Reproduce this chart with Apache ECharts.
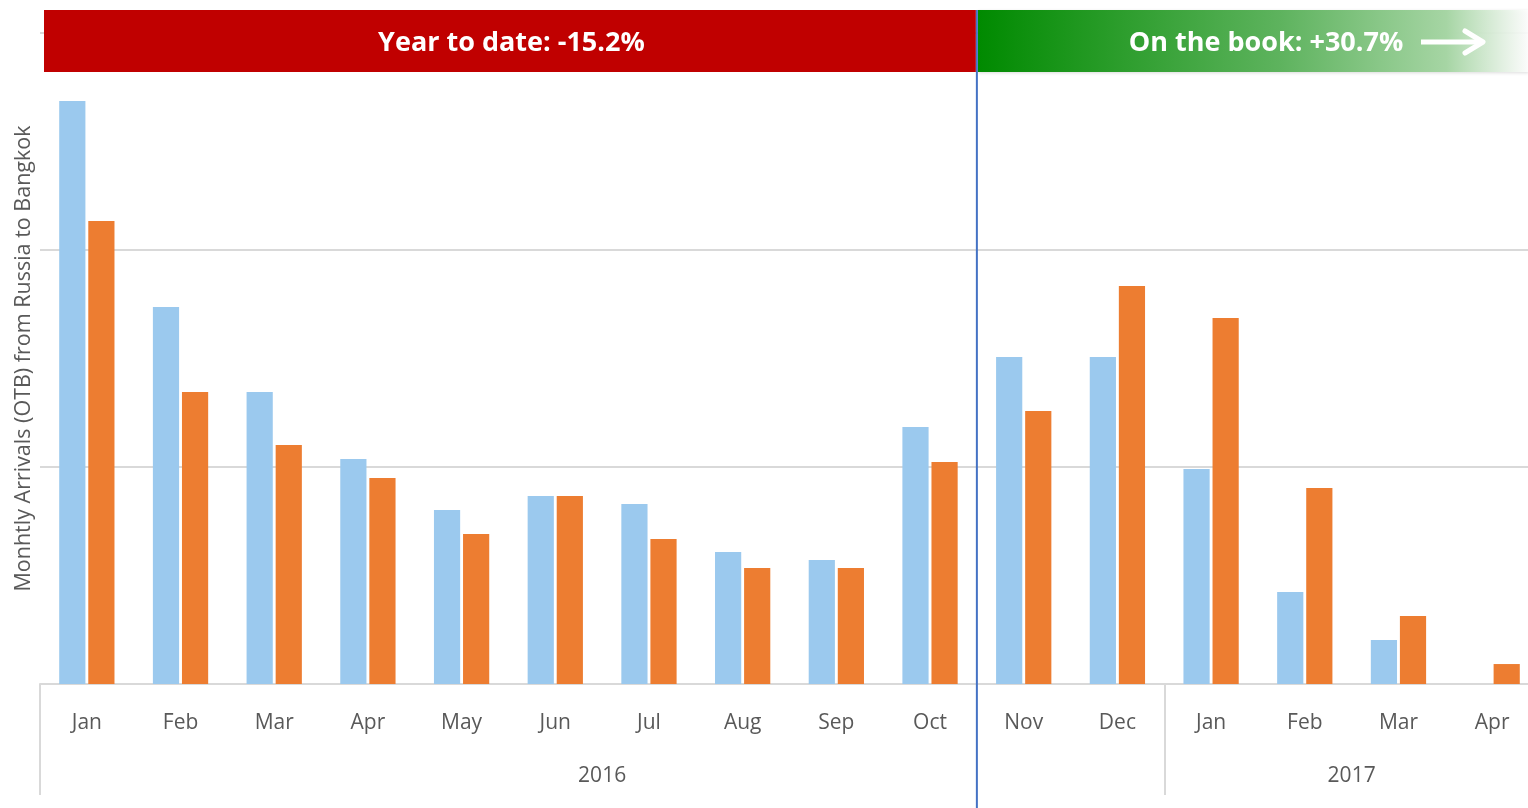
<!DOCTYPE html>
<html>
<head>
<meta charset="utf-8">
<script src="https://cdn.jsdelivr.net/npm/echarts@6/dist/echarts.min.js"></script>
<style>
html,body{margin:0;padding:0;background:#fff;}
#chart{width:1528px;height:808px;}
</style>
</head>
<body>
<div id="chart"></div>
<script>
// ---- data ----
const months = ['Jan','Feb','Mar','Apr','May','Jun','Jul','Aug','Sep','Oct','Nov','Dec','Jan','Feb','Mar','Apr'];
const previousYear = [2687,1737,1346,1037,802,866,829,608,571,1184,1507,1507,991,424,203,0];
const currentYear  = [2134,1346,1101,949,691,866,668,535,535,1023,1258,1834,1687,903,313,92];
const yearLabels = {6:'2016', 14:'2017'};
const yearLabelPositions = [6, 14];
const yearSeparators = [0, 12, 16];
const splitIndex = 10;
const ytdText = 'Year to date: -15.2%';
const otbText = 'On the book: +30.7%';
const yAxisTitle = 'Monhtly Arrivals (OTB) from Russia to Bangkok';

const FONT = '"Open Sans", "Liberation Sans", sans-serif';
const chart = echarts.init(document.getElementById('chart'));

const option = {
  animation: false,
  backgroundColor: '#ffffff',
  grid: { left: 40, top: 33, width: 1499, bottom: 124, containLabel: false, outerBoundsMode: 'none' },
  xAxis: [
    {
      type: 'category',
      data: months,
      axisLine: { show: true, lineStyle: { color: '#D9D9D9', width: 2 } },
      axisTick: { show: false },
      axisLabel: { color: '#595959', fontSize: 21, fontFamily: FONT, margin: 29, interval: 0 },
      splitLine: { show: false }
    },
    {
      type: 'value',
      position: 'bottom',
      min: 0, max: 16,
      axisLine: { show: false },
      axisTick: { show: true, customValues: yearSeparators, length: 111, lineStyle: { color: '#D9D9D9', width: 2 } },
      axisLabel: {
        show: true, customValues: yearLabelPositions, margin: 82,
        color: '#595959', fontSize: 21, fontFamily: FONT,
        formatter: v => yearLabels[v] || ''
      },
      splitLine: { show: false }
    }
  ],
  yAxis: {
    type: 'value',
    min: 0, max: 3000, interval: 1000,
    axisLabel: { show: false },
    axisLine: { show: false },
    axisTick: { show: false },
    splitLine: { show: true, lineStyle: { color: '#D9D9D9', width: 2 } },
    name: yAxisTitle,
    nameLocation: 'middle',
    nameGap: 5,
    nameRotate: 90,
    nameTextStyle: { color: '#595959', fontSize: 21.5, fontFamily: FONT }
  },
  series: [
    {
      name: 'Previous', type: 'bar', xAxisIndex: 0, data: previousYear,
      itemStyle: { color: '#9BC9EE' },
      barGap: '11%', barCategoryGap: '41%'
    },
    {
      name: 'Current', type: 'bar', xAxisIndex: 0, data: currentYear,
      itemStyle: { color: '#ED7D31' },
      barGap: '11%', barCategoryGap: '41%'
    }
  ]
};
chart.setOption(option);

const splitX = chart.convertToPixel({ xAxisIndex: 1 }, splitIndex);
chart.setOption({
  graphic: [
    { type: 'rect', z: 10, shape: { x: 44, y: 10, width: splitX - 45, height: 62 }, style: { fill: '#C00000' } },
    { type: 'text', z: 11, x: (44 + splitX) / 2 + 1, y: 43,
      style: { text: ytdText, fill: '#fff', font: 'bold 27px ' + FONT, align: 'center', verticalAlign: 'middle' } },
    { type: 'rect', z: 10, shape: { x: splitX + 1, y: 10, width: 1528 - splitX, height: 62 },
      style: {
        fill: new echarts.graphic.LinearGradient(0, 0, 1, 0, [
          { offset: 0, color: '#008A00' },
          { offset: 0.55, color: '#5EB35E' },
          { offset: 0.85, color: '#A6D5A4' },
          { offset: 1, color: 'rgba(255,255,255,0.9)' }
        ]),
        shadowColor: 'rgba(0,0,0,0.15)', shadowBlur: 3, shadowOffsetY: 1
      } },
    { type: 'text', z: 11, x: 1266, y: 43,
      style: { text: otbText, fill: '#fff', font: 'bold 27px ' + FONT, align: 'center', verticalAlign: 'middle' } },
    { type: 'polyline', z: 11, shape: { points: [[1421, 42], [1482, 42]] }, style: { stroke: '#fff', lineWidth: 5 } },
    { type: 'polyline', z: 11, shape: { points: [[1465, 31], [1483, 42], [1465, 53]] }, style: { stroke: '#fff', lineWidth: 5, fill: 'none', lineJoin: 'round', lineCap: 'round' } },
    { type: 'line', z: 12, shape: { x1: splitX, y1: 10, x2: splitX, y2: 808 }, style: { stroke: '#4472C4', lineWidth: 2 } }
  ]
});
</script>
</body>
</html>
